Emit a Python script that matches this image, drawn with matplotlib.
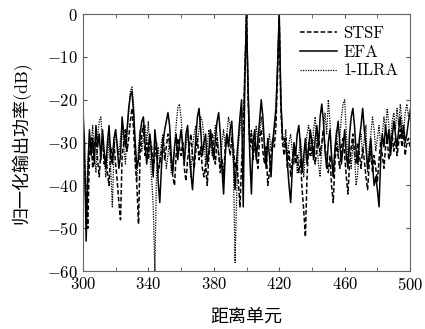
import matplotlib
matplotlib.use('Agg')
import matplotlib.pyplot as plt
import numpy as np

plt.rcParams['font.family'] = 'serif'
plt.rcParams['font.serif'] = ['cmr10', 'DejaVu Serif']
plt.rcParams['mathtext.fontset'] = 'cm'
plt.rcParams['axes.formatter.use_mathtext'] = True

x = np.arange(300, 501)  # 距离单元

# STSF (虚线)
stsf = [-27, -35, -42, -50, -33, -29, -36, -31, -28, -34,
        -38, -32, -29, -35, -33, -37, -40, -31, -34, -30,
        -35, -39, -44, -48, -33, -30, -27, -32, -29, -25,
        -22, -27, -35, -40, -49, -32, -28, -26, -33, -30,
        -34, -29, -31, -36, -33, -30, -37, -35, -32, -29,
        -34, -31, -28, -30, -35, -38, -40, -33, -29, -31,
        -33, -30, -36, -39, -34, -31, -28, -33, -36, -32,
        -29, -34, -31, -36, -38, -35, -40, -33, -30, -28,
        -32, -35, -29, -33, -37, -34, -38, -31, -28, -30,
        -33, -29, -31, -36, -34, -39, -45, -35, -28, -14,
        0, -20, -31, -28, -34, -30, -33, -36, -29, -27,
        -32, -35, -31, -40, -37, -33, -29, -31, -26, -14,
        -1, -22, -30, -33, -29, -36, -32, -38, -34, -31,
        -35, -33, -37, -34, -41, -46, -52, -38, -30, -33,
        -29, -32, -35, -31, -28, -33, -30, -27, -31, -34,
        -37, -33, -40, -44, -35, -30, -33, -36, -31, -29,
        -33, -38, -42, -35, -31, -28, -32, -35, -30, -33,
        -36, -31, -34, -38, -41, -35, -32, -37, -33, -36,
        -39, -34, -30, -33, -36, -31, -29, -34, -31, -28,
        -32, -29, -33, -30, -27, -31, -28, -33, -30, -29,
        -31]

# EFA (实线)
efa = [-22, -30, -53, -38, -27, -33, -29, -35, -26, -31,
       -28, -34, -27, -32, -36, -30, -26, -33, -35, -29,
       -27, -31, -36, -33, -24, -28, -31, -27, -22, -19,
       -18, -23, -30, -36, -34, -28, -25, -24, -30, -35,
       -31, -28, -33, -38, -27, -31, -39, -44, -36, -30,
       -27, -25, -23, -26, -33, -37, -31, -28, -34, -30,
       -27, -31, -35, -28, -26, -32, -37, -41, -35, -29,
       -24, -22, -27, -33, -30, -28, -35, -32, -27, -31,
       -34, -29, -25, -23, -28, -36, -42, -33, -28, -31,
       -27, -25, -33, -41, -34, -29, -24, -20, -45, -15,
       0, -18, -33, -42, -30, -27, -34, -29, -25, -20,
       -24, -31, -36, -29, -33, -38, -30, -26, -22, -12,
       0, -20, -29, -29, -30, -35, -40, -44, -36, -30,
       -33, -28, -26, -31, -37, -33, -29, -35, -31, -27,
       -30, -34, -29, -26, -31, -24, -21, -25, -32, -36,
       -30, -27, -33, -38, -32, -28, -25, -30, -35, -31,
       -27, -33, -36, -28, -24, -22, -26, -32, -35, -29,
       -26, -22, -27, -31, -36, -33, -29, -35, -40, -38,
       -41, -45, -34, -28, -31, -26, -30, -27, -33, -29,
       -25, -28, -31, -27, -24, -29, -26, -30, -28, -25,
       -23]

# 1-ILRA (点线)
ilra = [-30, -39, -46, -34, -28, -31, -26, -33, -37, -29,
        -25, -24, -30, -33, -38, -34, -29, -36, -45, -32,
        -27, -30, -33, -29, -26, -31, -35, -28, -23, -18,
        -17, -21, -33, -39, -31, -27, -32, -28, -26, -30,
        -25, -33, -38, -45, -60, -37, -31, -35, -30, -28,
        -32, -36, -33, -29, -37, -35, -31, -26, -22, -21,
        -24, -30, -34, -31, -27, -33, -38, -31, -28, -26,
        -30, -27, -24, -25, -29, -35, -31, -27, -30, -33,
        -29, -26, -28, -32, -36, -30, -27, -31, -28, -24,
        -26, -30, -35, -58, -42, -31, -27, -22, -24, -12,
        -1, -17, -30, -27, -32, -29, -26, -31, -28, -24,
        -27, -30, -34, -31, -28, -32, -30, -27, -23, -11,
        0, -19, -28, -31, -27, -33, -30, -28, -32, -35,
        -31, -37, -33, -29, -34, -38, -32, -28, -26, -30,
        -33, -27, -24, -30, -35, -38, -31, -27, -23, -28,
        -20, -25, -34, -38, -31, -27, -33, -29, -24, -21,
        -20, -28, -34, -31, -36, -30, -33, -40, -37, -30,
        -28, -33, -29, -26, -37, -31, -28, -24, -27, -32,
        -29, -26, -31, -28, -24, -27, -22, -26, -30, -25,
        -23, -27, -22, -26, -21, -25, -28, -23, -21, -24,
        -22]

fig = plt.figure(figsize=(4.25, 3.29), dpi=100)
ax = fig.add_axes([0.195, 0.176, 0.77, 0.781])

ax.plot(x, stsf, color='black', linestyle=(0, (3, 1.5)), linewidth=1.1, label='STSF')
ax.plot(x, efa, color='black', linestyle='-', linewidth=1.1, label='EFA')
ax.plot(x, ilra, color='black', linestyle=(0, (1, 1)), linewidth=0.9, label='1-ILRA')

ax.set_xlim(300, 500)
ax.set_ylim(-60, 0)
ax.set_xticks(range(300, 501, 40))
ax.set_xticks(range(300, 501, 20), minor=True)
ax.set_yticks(range(-60, 1, 10))
ax.tick_params(which='both', direction='in', top=True, right=True, labelsize=12, length=3, color='#555555')
for s in ax.spines.values():
    s.set_color('#666666')

cjk = ['cmr10', 'Noto Sans CJK SC']
ax.set_xlabel('距离单元', family=cjk, fontsize=13, labelpad=11)
ax.set_ylabel('归一化输出功率(dB)', family=cjk, fontsize=13, labelpad=11)

ax.legend(loc='upper right', frameon=False, fontsize=12, handlelength=2.2,
          handletextpad=0.4, labelspacing=0.2, borderaxespad=0.3)

fig.savefig('out.png', dpi=100)
